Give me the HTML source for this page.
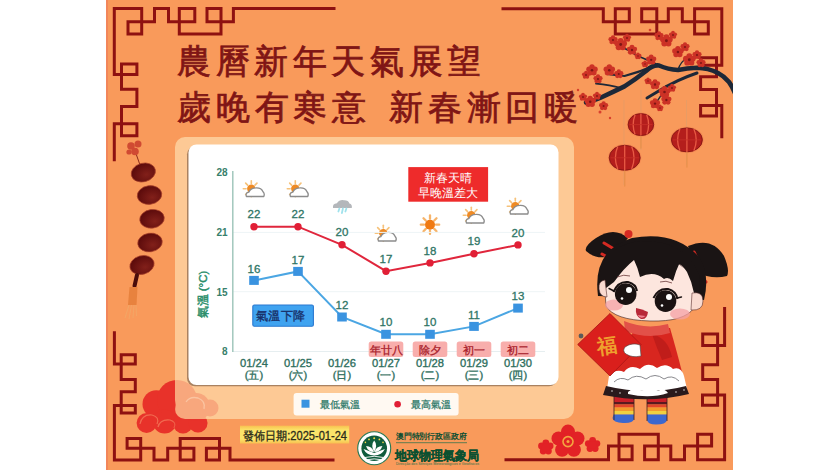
<!DOCTYPE html>
<html lang="zh-Hant"><head><meta charset="utf-8">
<style>
html,body{margin:0;padding:0;background:#fff;width:840px;height:470px;overflow:hidden}
svg{display:block;font-family:"Liberation Sans",sans-serif}
</style></head><body>
<svg width="840" height="470" viewBox="0 0 840 470">
<rect x="0" y="0" width="840" height="470" fill="#fff"/>
<rect x="106" y="0" width="627" height="470" fill="#F99A5B"/>
<rect x="106" y="0" width="2" height="470" fill="#F2865A"/>
<!-- FRAME -->
<g fill="none" stroke="#8E1111" stroke-width="3" stroke-linejoin="miter" stroke-linecap="square">
<path d="M114.3,159.7 V123.8 H136.9 V135.7 H121.5 V106.5 H136.9 V89.2 H121.5 V64 H136.9 V74.6 H114.3 V8.5 H141.7 V34 H128 V21.7 H154.5 V8.5 H168.5 V21.7 H194.8 V8.5 H179.3 V34 H221 V8.5 H207 V21.7 H233.4 V8.5 H334"/>
<path d="M721.8,136.8 V105.5 H700.6 V116.1 H716.5 V89.6 H700.6 V76.8 H716.5 V57.7 H700.6 V65.2 H721.8 V8.8 H694.6 V34 H708.3 V21.7 H682.3 V8.8 H668.3 V21.7 H641.7 V8.8 H656.8 V34 H615.3 V8.8 H629.3 V21.7 H603.3 V8.8 H503"/>
<path d="M114.4,332.7 V364.1 H135.3 V354.8 H121.2 V379.5 H135.3 V391.8 H121.2 V413 H135.3 V405.4 H114.4 V459.9 H140.7 V438.6 H127.1 V448.3 H154 V459.9 H167.7 V448.3 H193.9 V459.9 H180.2 V438.6 H219.5 V459.9 H206.4 V448.3 H230 V459.9 H333"/>
<path d="M724.6,308.5 V345.6 H702.7 V334 H717.6 V364.7 H702.7 V379.6 H717.6 V405.3 H702.5 V395.1 H724.6 V459.7 H697.6 V434.2 H711.6 V446.1 H684.5 V459.7 H670.8 V446.1 H644.6 V459.7 H658.3 V434.2 H619 V459.7 H632.1 V446.1 H608.5 V459.7 H506"/>
</g>
<!-- TITLE -->
<g fill="#801515" stroke="#801515" stroke-width="0.75" font-family="'Liberation Serif', serif" font-size="34">
<text x="177" y="72.5" letter-spacing="4.6">農曆新年天氣展望</text>
<text x="177" y="118.5" letter-spacing="4.75">歲晚有寒意</text>
<text x="389" y="118.5" letter-spacing="4.75">新春漸回暖</text>
</g>
<!-- CLOUD -->
<g id="cloud" fill="#E8322A">
<circle cx="156.3" cy="404" r="13.8"/>
<circle cx="177" cy="400" r="20"/>
<circle cx="146.6" cy="423" r="10"/>
<circle cx="164.6" cy="421.5" r="12"/>
<circle cx="183" cy="423.5" r="10"/>
<circle cx="198" cy="423" r="9.5"/>
<circle cx="196" cy="407" r="14"/>
</g>
<g fill="none" stroke="#F4785A" stroke-width="1.2" opacity="0.8">
<path d="M140,424 Q142,414 152,415 Q160,417 157,424"/>
<path d="M158,427 Q160,419 170,420 Q177,422 174,428"/>
</g>
<!-- PANEL -->
<rect x="175" y="137" width="399" height="282" rx="10" fill="#FDC995"/>
<rect x="187" y="146.3" width="370" height="240" rx="8" fill="#9A7658" opacity="0.85"/>
<g fill="#E8322A" opacity="0.22">
<circle cx="177" cy="400" r="20"/><circle cx="196" cy="407" r="14"/><circle cx="210" cy="408" r="8.5"/><circle cx="183" cy="423.5" r="10"/><circle cx="198" cy="423" r="9.5"/>
</g>
<path d="M186,402 Q190,396 198,398 Q206,401 204,409" fill="none" stroke="#FBD0B0" stroke-width="1.3" opacity="0.7"/>
<g fill="#E8322A"><path d="M175,410 A20,20 0 0 0 175,400 Z"/></g>
<rect x="188.5" y="144.5" width="370" height="240.5" rx="8" fill="#fff"/>
<defs><g id="sunray"><line x1="5.20" y1="0.00" x2="8.00" y2="0.00"/><line x1="3.68" y1="3.68" x2="5.66" y2="5.66"/><line x1="0.00" y1="5.20" x2="0.00" y2="8.00"/><line x1="-3.68" y1="3.68" x2="-5.66" y2="5.66"/><line x1="-5.20" y1="0.00" x2="-8.00" y2="0.00"/><line x1="-3.68" y1="-3.68" x2="-5.66" y2="-5.66"/><line x1="-0.00" y1="-5.20" x2="-0.00" y2="-8.00"/><line x1="3.68" y1="-3.68" x2="5.66" y2="-5.66"/></g><g id="pcloud">
<g transform="translate(-3.7,-1.7)"><g stroke="#F6C27A" stroke-width="1.6" stroke-linecap="round"><use href="#sunray"/></g><circle r="4.2" fill="#EE8A24"/></g>
<path d="M-8.6,6 Q-9.8,2.2 -6.2,1.6 Q-4.2,-2.6 1,-2.6 Q6.2,-2.9 8,1.2 Q10,3.2 8.8,6 Z" fill="#fff" stroke="#8C8C8C" stroke-width="1.3" stroke-linejoin="round"/>
</g>
<g id="sunny"><g stroke="#F6B46A" stroke-width="2" stroke-linecap="round" transform="scale(1.15)"><use href="#sunray"/></g><circle r="5" fill="#F07A12"/></g>
<g id="rcloud">
<path d="M-9.4,3 Q-10,-1.5 -5.5,-1.8 Q-3,-5.5 1.5,-4.8 Q6,-5 7,-1.5 Q10,-1 9.4,3 Z" fill="#B4B7BB"/>
<path d="M-3,3.5 L-4,6.5 M0.5,3.5 L-0.5,8 M4,3.5 L3,6.5" stroke="#9FE2EC" stroke-width="1.8" stroke-linecap="round"/>
</g>
</defs>
<!-- ICONS -->
<use href="#pcloud" x="255" y="190.5"/>
<use href="#pcloud" x="299" y="190.5"/>
<use href="#pcloud" x="387" y="235"/>
<use href="#pcloud" x="475" y="217"/>
<use href="#pcloud" x="519" y="208"/>
<use href="#rcloud" x="342.4" y="205"/>
<use href="#sunny" x="430" y="224.7"/>
<!-- CHART -->
<line x1="233" y1="232.4" x2="545" y2="232.4" stroke="#eef4f6" stroke-width="1"/>
<line x1="233" y1="291.7" x2="545" y2="291.7" stroke="#eef4f6" stroke-width="1"/>
<line x1="233" y1="351.5" x2="545" y2="351.5" stroke="#e6eef0" stroke-width="1"/>
<line x1="232.8" y1="171" x2="232.8" y2="352" stroke="#9CC4B8" stroke-width="1.4"/>
<g font-size="10" font-weight="bold" fill="#37806B" text-anchor="end">
<text x="227.5" y="176.0">28</text>
<text x="227.5" y="236.20000000000002">21</text>
<text x="227.5" y="295.5">15</text>
<text x="227.5" y="355.0">8</text>
</g>
<text transform="translate(207.3,294.6) rotate(-90)" font-size="11.5" fill="#2A8E6A" stroke="#2A8E6A" stroke-width="0.45" text-anchor="middle">氣溫 (°C)</text>
<polyline fill="none" stroke="#E0263C" stroke-width="2" points="254,226.7 298,226.7 342,244.8 386,271.2 430,262.9 474,253.7 518,244.9"/>
<polyline fill="none" stroke="#4BA6E3" stroke-width="2" points="254,280.4 298,271.4 342,317 386,334.3 430,334.3 474,326.4 518,308.1"/>
<circle cx="254" cy="226.7" r="3.7" fill="#E11F36"/>
<circle cx="298" cy="226.7" r="3.7" fill="#E11F36"/>
<circle cx="342" cy="244.8" r="3.7" fill="#E11F36"/>
<circle cx="386" cy="271.2" r="3.7" fill="#E11F36"/>
<circle cx="430" cy="262.9" r="3.7" fill="#E11F36"/>
<circle cx="474" cy="253.7" r="3.7" fill="#E11F36"/>
<circle cx="518" cy="244.9" r="3.7" fill="#E11F36"/>
<rect x="249.2" y="275.9" width="9.6" height="9" fill="#3A93E0"/>
<rect x="293.2" y="266.9" width="9.6" height="9" fill="#3A93E0"/>
<rect x="337.2" y="312.5" width="9.6" height="9" fill="#3A93E0"/>
<rect x="381.2" y="329.8" width="9.6" height="9" fill="#3A93E0"/>
<rect x="425.2" y="329.8" width="9.6" height="9" fill="#3A93E0"/>
<rect x="469.2" y="321.9" width="9.6" height="9" fill="#3A93E0"/>
<rect x="513.2" y="303.6" width="9.6" height="9" fill="#3A93E0"/>
<g font-size="11.5" fill="#2E7565" stroke="#2E7565" stroke-width="0.3" text-anchor="middle">
<text x="254" y="218.29999999999998">22</text>
<text x="298" y="218.29999999999998">22</text>
<text x="342" y="236.4">20</text>
<text x="386" y="262.8">17</text>
<text x="430" y="254.49999999999997">18</text>
<text x="474" y="245.29999999999998">19</text>
<text x="518" y="236.5">20</text>
<text x="254" y="272.5">16</text>
<text x="298" y="263.5">17</text>
<text x="342" y="309.1">12</text>
<text x="386" y="326.40000000000003">10</text>
<text x="430" y="326.40000000000003">10</text>
<text x="474" y="318.5">11</text>
<text x="518" y="300.20000000000005">13</text>
</g>
<rect x="368.7" y="341.4" width="34.6" height="15.6" rx="2.5" fill="#F8AEAC"/>
<text x="386" y="354.3" font-size="10.6" fill="#A81C2A" stroke="#A81C2A" stroke-width="0.3" text-anchor="middle">年廿八</text>
<rect x="412.7" y="341.4" width="34.6" height="15.6" rx="2.5" fill="#F8AEAC"/>
<text x="430" y="354.3" font-size="10.6" fill="#A81C2A" stroke="#A81C2A" stroke-width="0.3" text-anchor="middle">除夕</text>
<rect x="456.7" y="341.4" width="34.6" height="15.6" rx="2.5" fill="#F8AEAC"/>
<text x="474" y="354.3" font-size="10.6" fill="#A81C2A" stroke="#A81C2A" stroke-width="0.3" text-anchor="middle">初一</text>
<rect x="500.7" y="341.4" width="34.6" height="15.6" rx="2.5" fill="#F8AEAC"/>
<text x="518" y="354.3" font-size="10.6" fill="#A81C2A" stroke="#A81C2A" stroke-width="0.3" text-anchor="middle">初二</text>
<g font-size="11.2" fill="#2F6F60" stroke="#2F6F60" stroke-width="0.35" text-anchor="middle">
<text x="254" y="367.3">01/24</text>
<text x="254" y="379.3">(五)</text>
<text x="298" y="367.3">01/25</text>
<text x="298" y="379.3">(六)</text>
<text x="342" y="367.3">01/26</text>
<text x="342" y="379.3">(日)</text>
<text x="386" y="367.3">01/27</text>
<text x="386" y="379.3">(一)</text>
<text x="430" y="367.3">01/28</text>
<text x="430" y="379.3">(二)</text>
<text x="474" y="367.3">01/29</text>
<text x="474" y="379.3">(三)</text>
<text x="518" y="367.3">01/30</text>
<text x="518" y="379.3">(四)</text>
</g>
<rect x="408.3" y="167.1" width="79.8" height="34.6" fill="#EE2B2B"/>
<text x="448.2" y="182.3" font-size="12" fill="#fff" text-anchor="middle">新春天晴</text>
<text x="448.2" y="197.4" font-size="12" fill="#fff" text-anchor="middle">早晚溫差大</text>
<rect x="252.8" y="305" width="60.6" height="21.2" rx="1.5" fill="#3FA3F0" stroke="#2A78D0" stroke-width="1.1"/>
<text x="256.3" y="320" font-size="12" fill="#18306A" stroke="#18306A" stroke-width="0.35" textLength="48.5" lengthAdjust="spacingAndGlyphs">氣溫下降</text>
<rect x="293.6" y="393" width="165" height="22.5" rx="3" fill="#FFF9F2"/>
<rect x="301.5" y="399.7" width="8" height="8" fill="#3A93E0"/>
<text x="319.6" y="408" font-size="10" fill="#2F7A6A" stroke="#2F7A6A" stroke-width="0.25">最低氣溫</text>
<circle cx="397.6" cy="404.2" r="3.3" fill="#E11F36"/>
<text x="411.2" y="408" font-size="10" fill="#2F7A6A" stroke="#2F7A6A" stroke-width="0.25">最高氣溫</text>
<!-- DATE LABEL -->
<defs><linearGradient id="yg" x1="0" y1="0" x2="0" y2="1"><stop offset="0" stop-color="#F8C050"/><stop offset="0.25" stop-color="#FBE46A"/><stop offset="0.75" stop-color="#FBE46A"/><stop offset="1" stop-color="#F8C050"/></linearGradient><radialGradient id="bead" cx="0.6" cy="0.65" r="0.6"><stop offset="0" stop-color="#82201A"/><stop offset="1" stop-color="#5E0C0C"/></radialGradient><radialGradient id="lant" cx="0.5" cy="0.5" r="0.5"><stop offset="0" stop-color="#E8402A"/><stop offset="1" stop-color="#B81C18"/></radialGradient></defs>
<rect x="240" y="425.7" width="109.2" height="17.8" fill="url(#yg)"/>
<text x="243" y="439.6" font-size="12" fill="#2A2A1A" stroke="#2A2A1A" stroke-width="0.3" textLength="104" lengthAdjust="spacingAndGlyphs">發佈日期:2025-01-24</text>
<!-- LOGO -->
<circle cx="374.2" cy="448.3" r="16.5" fill="#fff" stroke="#2A7A55" stroke-width="1.1"/>
<circle cx="374.2" cy="448.3" r="12.8" fill="#0F5C3C"/>
<g fill="#fff">
<path d="M374.2,440.5 Q378,445 374.2,452 Q370.4,445 374.2,440.5 Z"/>
<path d="M366,446 Q372,446 374,452 Q368,452 366,446 Z"/>
<path d="M382.4,446 Q376.4,446 374.4,452 Q380.4,452 382.4,446 Z"/>
<path d="M363.5,449 Q369,451 374.2,453 Q379.4,451 384.9,449 Q382,455 374.2,455.5 Q366.4,455 363.5,449 Z"/>
</g>
<path d="M365,457.5 Q374.2,455 383.4,457.5 M366.5,459.8 Q374.2,458 381.9,459.8" stroke="#fff" stroke-width="0.9" fill="none"/>
<g fill="#F5D94A"><circle cx="374.2" cy="438.2" r="1"/><circle cx="369" cy="439.4" r="0.9"/><circle cx="379.4" cy="439.4" r="0.9"/><circle cx="365.4" cy="442.4" r="0.8"/><circle cx="383" cy="442.4" r="0.8"/></g>
<text x="395.8" y="438.8" font-size="8.2" font-weight="bold" fill="#0E4E32" textLength="71" lengthAdjust="spacingAndGlyphs">澳門特別行政區政府</text>
<line x1="396" y1="442.7" x2="467" y2="442.7" stroke="#1E6E4A" stroke-width="0.7"/>
<text x="395" y="459.5" font-size="12.5" font-weight="bold" fill="#0C5030" stroke="#0C5030" stroke-width="0.3" textLength="84" lengthAdjust="spacingAndGlyphs">地球物理氣象局</text>
<text x="396" y="465" font-size="3.5" fill="#1E6E4A" textLength="83" lengthAdjust="spacingAndGlyphs">Direcção dos Serviços Meteorológicos e Geofísicos</text>
<!-- BEADS -->
<g>
<path d="M134,148 L140,165" stroke="#8A2A1A" stroke-width="1" />
<g fill="#D04A32"><circle cx="131" cy="146" r="3.8"/><circle cx="138" cy="144" r="3.5"/><circle cx="135" cy="151.5" r="3.8"/><circle cx="129" cy="152" r="2.6"/></g>
<g fill="url(#bead)" stroke="#A8402A" stroke-width="0.7"><ellipse cx="143.3" cy="172.5" rx="12.3" ry="9.3" transform="rotate(-15 143.3 172.5)"/><ellipse cx="149.5" cy="195" rx="12.3" ry="9.3" transform="rotate(-8 149.5 195)"/><ellipse cx="152" cy="218.8" rx="12.3" ry="9.3" transform="rotate(-8 152 218.8)"/><ellipse cx="150" cy="242.5" rx="12.3" ry="9.3" transform="rotate(-8 150 242.5)"/><ellipse cx="142" cy="265" rx="12.3" ry="9.3" transform="rotate(-15 142 265)"/></g>
<path d="M137,275 L134.5,286" stroke="#4a0c0a" stroke-width="4" stroke-linecap="round"/>
<path d="M129.5,287 L137.5,287 L136.5,305 L128,305 Z" fill="#E8823E"/>
<g stroke="#F2A868" stroke-width="1.1" fill="none" opacity="0.8"><path d="M129,305 L125,318"/><path d="M131.5,305 L129,319"/><path d="M134,305 L133,318"/><path d="M136,305 L136.5,316"/></g>
</g>
<!-- FLOWERS BOTTOM RIGHT -->
<g fill="#E22226">
<g transform="translate(568,441.6)"><circle cx="0" cy="-10" r="7"/><circle cx="9.5" cy="-3.1" r="7"/><circle cx="5.9" cy="8.1" r="7"/><circle cx="-5.9" cy="8.1" r="7"/><circle cx="-9.5" cy="-3.1" r="7"/><circle r="8"/></g>
<g transform="translate(545.8,447.4)"><circle cx="0" cy="-4.5" r="3.4"/><circle cx="4.3" cy="-1.4" r="3.4"/><circle cx="2.6" cy="3.6" r="3.4"/><circle cx="-2.6" cy="3.6" r="3.4"/><circle cx="-4.3" cy="-1.4" r="3.4"/><circle r="4"/></g>
<g transform="translate(592.6,445)"><circle cx="0" cy="-4.5" r="3.4"/><circle cx="4.3" cy="-1.4" r="3.4"/><circle cx="2.6" cy="3.6" r="3.4"/><circle cx="-2.6" cy="3.6" r="3.4"/><circle cx="-4.3" cy="-1.4" r="3.4"/><circle r="4"/></g>
</g>
<circle cx="568" cy="441.6" r="5" fill="none" stroke="#F4A640" stroke-width="1.6"/>
<circle cx="568" cy="441.6" r="1.5" fill="#F4A640"/>
<!-- GIRL -->
<g id="girl">
<!-- legs -->
<g>
<path d="M614,392 H634 V403 H614 Z" fill="#C81E28"/>
<rect x="614" y="402" width="20" height="2.5" fill="#5A1A20"/>
<rect x="614" y="404.5" width="20" height="3" fill="#E2452A"/>
<rect x="614" y="407.5" width="20" height="3.5" fill="#F39A2C"/>
<rect x="614" y="411" width="20" height="3.5" fill="#F0D040"/>
<path d="M613.5,414.5 H634 V419 Q633,423.5 623,423 Q613,422.5 612.5,418 Z" fill="#3C68CF"/>
<path d="M647,392 H667 V403 H647 Z" fill="#C81E28"/>
<rect x="647" y="402" width="20" height="2.5" fill="#5A1A20"/>
<rect x="647" y="404.5" width="20" height="3" fill="#E2452A"/>
<rect x="647" y="407.5" width="20" height="3.5" fill="#F39A2C"/>
<rect x="647" y="411" width="20" height="3.5" fill="#F0D040"/>
<path d="M647,414.5 H667 V420 Q666,424.5 656,424.5 Q648,424.5 647,420 Z" fill="#3C68CF"/>
<path d="M614,396 V420 M634,396 V420 M647,396 V421 M667,396 V421" stroke="#3a2020" stroke-width="0.8"/>
</g>
<!-- dress -->
<path d="M636,328 L670,328 Q677,352 682,372 L686,390 Q648,400 608,390 L612,372 Q620,350 636,328 Z" fill="#D8261F"/>
<path d="M652,334 Q668,338 672,357 L662,360 Q656,346 652,334 Z" fill="#C01D1A"/>
<path d="M609,376 Q616,368 624,372 Q630,364 640,369 Q648,361 657,368 Q666,362 673,369 Q681,366 684,376 L687,389 Q648,399 607,389 Z" fill="#fff"/>
<path d="M614,382 Q620,376 628,380 Q636,373 646,379 Q655,372 664,379 Q672,374 679,381" fill="none" stroke="#7a7a80" stroke-width="0.9"/>
<path d="M606,386 Q648,396 686,386 L689,394 Q648,404 603,395 Z" fill="#2A1A1C"/>
<path d="M628,392 Q634,386 642,391 Q650,385 658,391 Q664,387 668,393 Q650,399 628,394 Z" fill="#fff"/>
<g fill="#fff"><circle cx="612" cy="391" r="0.7"/><circle cx="620" cy="393" r="0.7"/><circle cx="676" cy="392" r="0.7"/><circle cx="684" cy="390" r="0.7"/></g>
<!-- collar -->
<path d="M624,321 Q646,330 668,324 L670,333 Q648,340 625,331 Z" fill="#E25048"/>
<!-- envelope -->
<path d="M610,313.5 L641,344.5 L610,376 L577.7,344.5 Z" fill="#DA1F1C" stroke="#A81414" stroke-width="0.8"/>
<text x="606.5" y="353" font-size="20" font-weight="bold" fill="#EFA02E" text-anchor="middle" transform="rotate(-8 606.5 345)">福</text>
<circle cx="581" cy="336" r="2.4" fill="#5a5a5a"/>
<!-- glove -->
<path d="M625,347 Q632,342 640,345 L641,356 Q632,358 626,354 Q622,351 625,347 Z" fill="#fff" stroke="#444" stroke-width="0.6"/>
<!-- hair back & pigtails -->
<path d="M628,238 Q614,226 596,238 Q584,246 586,251 Q598,262 616,254 Z" fill="#1A1414"/>
<path d="M688,246 Q712,236 724,256 Q730,270 727,276 Q712,280 696,272 Z" fill="#1A1414"/>
<circle cx="628.5" cy="234" r="4" fill="#D62A22"/>
<path d="M604,243 L614,249 M602,254 L609,258" stroke="#D62A22" stroke-width="3" stroke-linecap="round"/>
<path d="M694,252 L699,262 M700,275 L706,282" stroke="#D62A22" stroke-width="3" stroke-linecap="round"/>
<path d="M598,296 Q592,250 632,238 Q676,230 700,258 Q710,276 704,300 Z" fill="#1A1414"/>
<!-- face -->
<path d="M604.5,284 Q606,258 632,256 Q668,252 690,272 Q698,292 694,308 Q684,322 650,321 Q614,320 606,306 Z" fill="#FDE6DE" stroke="#3a2020" stroke-width="0.6"/>
<!-- bangs -->
<path d="M599,292 Q596,250 634,242 Q682,236 699,274 L700,296 L694,293 Q692,282 687,272 L680,262 Q676,270 673,281 Q668,276 664,279 Q654,270 640,277 Q638,268 634,260 Q624,268 614,282 L606,288 Z" fill="#1A1414"/>
<!-- ears -->
<path d="M605,280 Q598,281 599,289 Q600,297 607,297 Z" fill="#F9DAD0" stroke="#5a3030" stroke-width="0.6"/>
<path d="M692,293 Q703,291 703,301 Q703,311 691,310 Z" fill="#F9DAD0" stroke="#5a3030" stroke-width="0.6"/>
<!-- blush -->
<ellipse cx="614" cy="305" rx="9" ry="5.5" fill="#F4A0A4" opacity="0.75"/>
<ellipse cx="680" cy="314" rx="10" ry="5.5" fill="#F4A0A4" opacity="0.75"/>
<!-- eyes -->
<circle cx="625.7" cy="294.1" r="10.8" fill="#1A1212"/>
<circle cx="665.5" cy="301.1" r="10.8" fill="#1A1212"/>
<circle cx="629" cy="290" r="3" fill="#fff"/><circle cx="669" cy="297" r="3" fill="#fff"/>
<circle cx="622" cy="298.5" r="1.3" fill="#fff"/><circle cx="662" cy="305.5" r="1.3" fill="#fff"/>
<path d="M613.5,292 Q618,281 628,282 Q636,284 637,291" fill="none" stroke="#1A1212" stroke-width="2"/>
<path d="M614,291 L609,288.5" stroke="#1A1212" stroke-width="1.4" stroke-linecap="round"/>
<path d="M653.5,298 Q658,288 668,289 Q676,291 677.5,299" fill="none" stroke="#1A1212" stroke-width="2"/>
<path d="M677,298 L681.5,297" stroke="#1A1212" stroke-width="1.4" stroke-linecap="round"/>
<path d="M617,277 Q624,274 630,276 M660,282 Q666,280 672,283" fill="none" stroke="#6a3a3a" stroke-width="0.8"/>
<!-- mouth -->
<path d="M636,308 Q642,309 648,312 Q647,320 641,319 Q635,316 636,308 Z" fill="#B82838"/>
<path d="M637.5,315 Q641,320 645.5,316 Z" fill="#F08090"/>
</g>
<!-- BRANCH & LANTERNS -->
<g stroke="#D9A070" stroke-width="0.6" opacity="0.8">
<line x1="641" y1="90" x2="641" y2="150"/><line x1="686.5" y1="100" x2="686.5" y2="165"/><line x1="624" y1="100" x2="624" y2="185"/>
</g>
<g>
<g transform="translate(640.9,124.6)"><ellipse rx="14.0" ry="12.2" fill="#F07848" opacity="0.45"/><ellipse rx="12.8" ry="11" fill="#B41E1C" stroke="#7E1212" stroke-width="0.8"/><path d="M-5.8,-9.9 Q-9.6,0 -5.8,9.9 M0,-11.0 V11.0 M5.8,-9.9 Q9.6,0 5.8,9.9" stroke="#E85A44" stroke-width="1.3" fill="none"/><path d="M-11.5,0 H11.5" stroke="#C83028" stroke-width="0.8"/></g><g transform="translate(624.7,157.8)"><ellipse rx="16.7" ry="13.7" fill="#F07848" opacity="0.45"/><ellipse rx="15.5" ry="12.5" fill="#B41E1C" stroke="#7E1212" stroke-width="0.8"/><path d="M-7.0,-11.2 Q-11.6,0 -7.0,11.2 M0,-12.5 V12.5 M7.0,-11.2 Q11.6,0 7.0,11.2" stroke="#E85A44" stroke-width="1.3" fill="none"/><path d="M-14.0,0 H14.0" stroke="#C83028" stroke-width="0.8"/></g><g transform="translate(686.9,139.9)"><ellipse rx="16.7" ry="13.2" fill="#F07848" opacity="0.45"/><ellipse rx="15.5" ry="12" fill="#B41E1C" stroke="#7E1212" stroke-width="0.8"/><path d="M-7.0,-10.8 Q-11.6,0 -7.0,10.8 M0,-12.0 V12.0 M7.0,-10.8 Q11.6,0 7.0,10.8" stroke="#E85A44" stroke-width="1.3" fill="none"/><path d="M-14.0,0 H14.0" stroke="#C83028" stroke-width="0.8"/></g></g>
<g stroke="#E8904A" stroke-width="1.4" stroke-linecap="round" opacity="0.85">
<line x1="640.9" y1="136.5" x2="640.9" y2="148"/><line x1="624.7" y1="171" x2="624.7" y2="186"/><line x1="686.9" y1="152.5" x2="686.9" y2="167"/>
</g>
<g fill="none" stroke="#1D2838" stroke-linecap="round" stroke-linejoin="round">
<path d="M740,108 Q735,90 729,82 Q724,76 718,73 Q708,68 697,67.8 Q687,68 678,70 Q668,69.5 659,65.5 Q653,64.5 646,71 Q636,79 624.5,86.4 Q612,92.5 600,98 Q593,101 586,102.6" stroke-width="4.6"/>
<path d="M697,73 Q688,76 678,80.7 Q666,86.4 657,92 Q652,95 647,98" stroke-width="3"/>
<path d="M653,66 Q640,72 624.5,76 Q615,75 607,74" stroke-width="2.2"/>
<path d="M621,88 Q610,85 596,83.6" stroke-width="1.8"/>
<path d="M659,65.5 Q648,60 638,56 Q630,51 624,48" stroke-width="1.6"/>
<path d="M678,70 Q680,62 688,57" stroke-width="1.4"/>
<path d="M666,86 Q662,95 656,103" stroke-width="1.4"/>
</g>
<defs><g id="blos"><g fill="#CC3226"><circle cx="0.00" cy="-3.20" r="2.7"/><circle cx="3.04" cy="-0.99" r="2.7"/><circle cx="1.88" cy="2.59" r="2.7"/><circle cx="-1.88" cy="2.59" r="2.7"/><circle cx="-3.04" cy="-0.99" r="2.7"/><circle r="2.5"/></g><circle r="1.3" fill="#7E1614"/></g></defs>
<use href="#blos" transform="translate(620.7,44.5) scale(1.1)"/><use href="#blos" transform="translate(613,40) scale(0.8)"/><use href="#blos" transform="translate(627,38) scale(0.7)"/><use href="#blos" transform="translate(632,50) scale(0.9)"/><use href="#blos" transform="translate(638,56) scale(0.6)"/><use href="#blos" transform="translate(666.4,40.7) scale(1.1)"/><use href="#blos" transform="translate(659,36) scale(0.8)"/><use href="#blos" transform="translate(673,35) scale(0.7)"/><use href="#blos" transform="translate(677.9,52) scale(1.0)"/><use href="#blos" transform="translate(685,47) scale(0.8)"/><use href="#blos" transform="translate(689.3,59.8) scale(1.1)"/><use href="#blos" transform="translate(697,55) scale(0.8)"/><use href="#blos" transform="translate(701,63) scale(0.8)"/><use href="#blos" transform="translate(651.2,59.8) scale(0.9)"/><use href="#blos" transform="translate(645,64) scale(0.6)"/><use href="#blos" transform="translate(592,70.2) scale(1.0)"/><use href="#blos" transform="translate(586,75) scale(0.7)"/><use href="#blos" transform="translate(609.3,70.2) scale(1.0)"/><use href="#blos" transform="translate(618.8,74) scale(0.8)"/><use href="#blos" transform="translate(598,79) scale(0.8)"/><use href="#blos" transform="translate(590.2,101.7) scale(1.0)"/><use href="#blos" transform="translate(583,97) scale(0.7)"/><use href="#blos" transform="translate(597,96) scale(0.7)"/><use href="#blos" transform="translate(603.6,106) scale(0.8)"/><use href="#blos" transform="translate(655,84.5) scale(0.9)"/><use href="#blos" transform="translate(648,81) scale(0.6)"/><use href="#blos" transform="translate(664.5,92) scale(1.0)"/><use href="#blos" transform="translate(672,88) scale(0.7)"/><use href="#blos" transform="translate(655,103.6) scale(0.9)"/><use href="#blos" transform="translate(666.4,100) scale(0.9)"/><use href="#blos" transform="translate(660,108) scale(0.6)"/>
<g fill="#D8402E"><circle cx="600" cy="112" r="1.5"/><circle cx="650" cy="30" r="1.3"/><circle cx="610" cy="118" r="1.2"/><circle cx="578" cy="90" r="1.2"/></g>
<rect x="0" y="0" width="106" height="470" fill="#fff"/>
<rect x="733" y="0" width="107" height="470" fill="#fff"/>
</svg>
</body></html>
